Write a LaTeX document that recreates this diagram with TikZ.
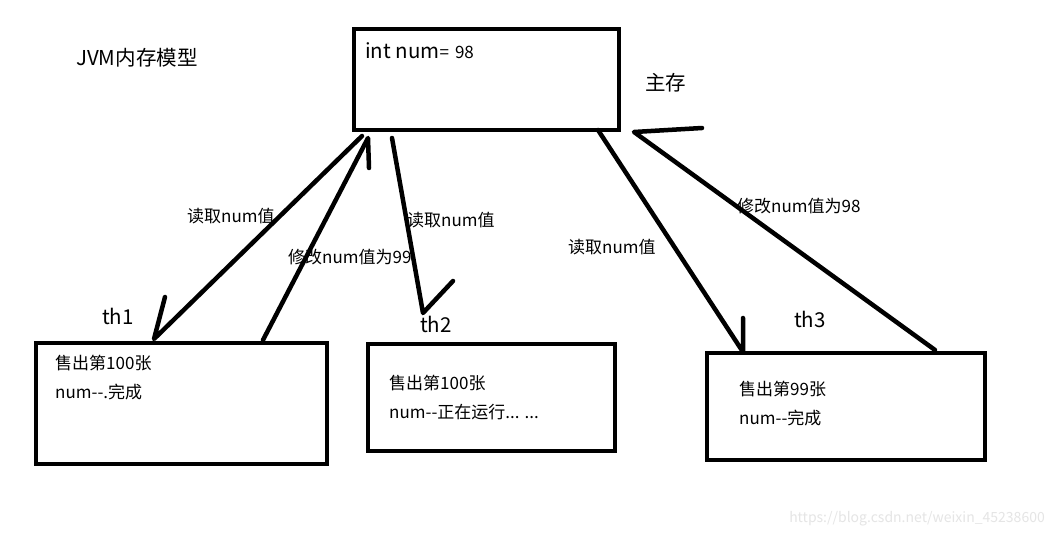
\documentclass[tikz,border=0pt]{standalone}
\usepackage{fontspec}
\setmainfont{Noto Sans CJK SC}
\begin{document}
\begin{tikzpicture}[x=1pt,y=-1pt,
  box/.style={draw=black,line width=4.5pt,minimum width=#1,inner sep=0pt},
  stroke/.style={draw=black,line width=4.5pt,line cap=round,line join=round},
  lbl/.style={inner sep=0pt,anchor=west,font=\fontsize{17}{19}\selectfont},
  big/.style={inner sep=0pt,anchor=west,font=\fontsize{20.5}{23}\selectfont}]
\useasboundingbox[fill=white] (0,0) rectangle (1053,537);
% boxes
\node[box=265pt,minimum height=101pt] (main) at (486.5,79.5) {};
\node[box=291pt,minimum height=121pt] (th1box) at (181.5,403.5) {};
\node[box=247pt,minimum height=107pt] (th2box) at (491.5,397.5) {};
\node[box=278pt,minimum height=107pt] (th3box) at (846,406.5) {};
% texts
\node[big] (title) at (76,58) {JVM内存模型};
\node[inner sep=0pt,anchor=west] (var) at (365,51) {{\fontsize{20.5}{23}\selectfont int num}{\fontsize{17}{19}\selectfont =\hspace{6pt}98}};
\node[big] (zc) at (645,83) {主存};
\node[big] (th1) at (102,316) {th1};
\node[big] (th2) at (420,324) {th2};
\node[big] (th3) at (794,319) {th3};
\node[lbl] (a1) at (187,216) {读取num值};
\node[lbl] (a2) at (288,257) {修改num值为99};
\node[lbl] (a3) at (407,220) {读取num值};
\node[lbl] (a4) at (568,247) {读取num值};
\node[lbl] (a5) at (737,206) {修改num值为98};
\node[lbl] (t1a) at (55,363) {售出第100张};
\node[lbl] (t1b) at (55,392) {num-{}-.完成};
\node[lbl] (t2a) at (389,383) {售出第100张};
\node[lbl] (t2b) at (389,412) {num-{}-正在运行... ...};
\node[lbl] (t3a) at (739,389) {售出第99张};
\node[lbl] (t3b) at (739,418) {num-{}-完成};
\node[inner sep=0pt,anchor=east,text=black!10,font=\fontsize{14}{16}\selectfont] (wm) at (1045,519) {https://blog.csdn.net/weixin\_45238600};
% connector end points
\coordinate (p1s) at (362,136); \coordinate (p1e) at (154,339); \coordinate (p1b) at (165,297);
\coordinate (p2s) at (263,340); \coordinate (p2e) at (368,138); \coordinate (p2b) at (369,168);
\coordinate (p3s) at (392,138); \coordinate (p3e) at (423,313); \coordinate (p3b) at (453,281);
\coordinate (p4s) at (598,130); \coordinate (p4e) at (743,352); \coordinate (p4b) at (743,318);
\coordinate (p5s) at (935,350); \coordinate (p5e) at (634,132); \coordinate (p5b) at (702,128);
% connectors
\draw[stroke] (p1s) -- (p1e) -- (p1b);
\draw[stroke] (p2s) -- (p2e) -- (p2b);
\draw[stroke] (p3s) -- (p3e) -- (p3b);
\draw[stroke] (p4s) -- (p4e) -- (p4b);
\draw[stroke] (p5s) -- (p5e) -- (p5b);
\end{tikzpicture}
\end{document}
